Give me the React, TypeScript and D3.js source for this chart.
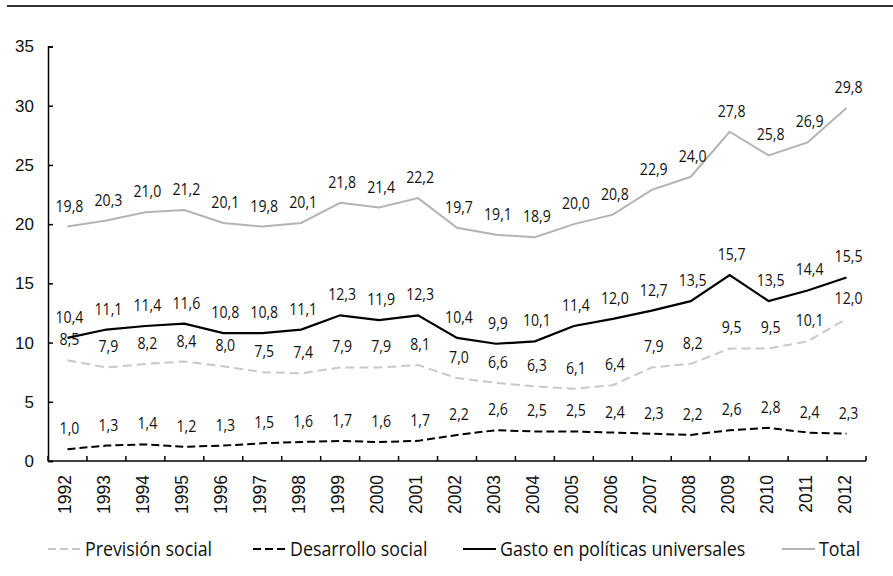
import React, { useRef, useEffect } from "react";
import * as d3 from "d3";

const years = ["1992","1993","1994","1995","1996","1997","1998","1999","2000","2001","2002","2003","2004","2005","2006","2007","2008","2009","2010","2011","2012"];
const prevision = [8.5,7.9,8.2,8.4,8.0,7.5,7.4,7.9,7.9,8.1,7.0,6.6,6.3,6.1,6.4,7.9,8.2,9.5,9.5,10.1,12.0];
const desarrollo = [1.0,1.3,1.4,1.2,1.3,1.5,1.6,1.7,1.6,1.7,2.2,2.6,2.5,2.5,2.4,2.3,2.2,2.6,2.8,2.4,2.3];
const gasto = [10.4,11.1,11.4,11.6,10.8,10.8,11.1,12.3,11.9,12.3,10.4,9.9,10.1,11.4,12.0,12.7,13.5,15.7,13.5,14.4,15.5];
const total = [19.8,20.3,21.0,21.2,20.1,19.8,20.1,21.8,21.4,22.2,19.7,19.1,18.9,20.0,20.8,22.9,24.0,27.8,25.8,26.9,29.8];
const yTicks = [0,5,10,15,20,25,30,35];

const series = [
  { name: "Previsión social", values: prevision, color: "#c8c8c8", width: 2, dash: "9,5", legendX: 48 },
  { name: "Desarrollo social", values: desarrollo, color: "#000", width: 2, dash: "8,4", legendX: 253 },
  { name: "Gasto en políticas universales", values: gasto, color: "#000", width: 2.2, dash: null, legendX: 463 },
  { name: "Total", values: total, color: "#b4b4b4", width: 2, dash: null, legendX: 782 },
];

const fmt = (v: number) => v.toFixed(1).replace(".", ",");
// no condensed face installed, so Open Sans gets squeezed horizontally
const labelFont = "'Open Sans', sans-serif";
const axisFont = "'Liberation Sans', Arial, sans-serif";

export default function App() {
  const svgRef = useRef<SVGSVGElement>(null);

  useEffect(() => {
    const svg = d3.select(svgRef.current);
    svg.selectAll("*").remove();

    const x = d3.scaleBand().domain(years).range([48, 866]);
    const y = d3.scaleLinear().domain([0, 35]).range([461, 46.5]);
    const cx = (d: string) => (x(d) as number) + x.bandwidth() / 2;

    // top rule
    svg.append("line")
      .attr("x1", 7).attr("x2", 893).attr("y1", 6).attr("y2", 6)
      .attr("stroke", "#333").attr("stroke-width", 2);

    // y axis
    const yAxis = svg.append("g").attr("transform", "translate(48,0)")
      .call(d3.axisRight(y).tickValues(yTicks).tickSize(5).tickFormat(d3.format("d")));
    yAxis.select(".domain").attr("stroke", "#000").attr("stroke-width", 1.5);
    yAxis.selectAll(".tick line").attr("stroke", "#000").attr("stroke-width", 1.5);
    yAxis.selectAll(".tick text")
      .attr("x", -14).attr("text-anchor", "end")
      .attr("font-family", axisFont).attr("font-size", 17).attr("fill", "#111");

    // x axis
    const xAxis = svg.append("g").attr("transform", "translate(0,461)");
    xAxis.append("line").attr("x1", 48).attr("x2", 866).attr("stroke", "#000").attr("stroke-width", 1.5);
    xAxis.selectAll("line.tk").data(years.concat(["end"])).enter().append("line")
      .attr("class", "tk")
      .attr("x1", (d, i) => 48 + i * x.step()).attr("x2", (d, i) => 48 + i * x.step())
      .attr("y1", 0).attr("y2", -5)
      .attr("stroke", "#000").attr("stroke-width", 1.5);
    xAxis.selectAll("text").data(years).enter().append("text")
      .attr("transform", d => `translate(${cx(d) + 4},14) rotate(-90)`)
      .attr("text-anchor", "end")
      .attr("font-family", axisFont).attr("font-size", 17.5).attr("fill", "#111")
      .text(d => d);

    const line = d3.line<number>().x((d, i) => cx(years[i])).y(d => y(d));

    series.forEach(s => {
      svg.append("path")
        .datum(s.values)
        .attr("d", line)
        .attr("fill", "none")
        .attr("stroke", s.color)
        .attr("stroke-width", s.width)
        .attr("stroke-dasharray", s.dash);
      svg.append("g").selectAll("text").data(s.values).enter().append("text")
        .attr("transform", (d, i) => `translate(${cx(years[i]) + 2},${y(d) - 15}) scale(0.83,1)`)
        .attr("text-anchor", "middle")
        .attr("font-family", labelFont).attr("font-size", 17).attr("fill", "#111")
        .text(d => fmt(d));
    });

    // legend
    const lg = svg.append("g").attr("transform", "translate(0,549)");
    series.forEach(s => {
      lg.append("line")
        .attr("x1", s.legendX).attr("x2", s.legendX + 33)
        .attr("stroke", s.color).attr("stroke-width", s.width)
        .attr("stroke-dasharray", s.dash ? "8,4" : null);
      lg.append("text")
        .attr("transform", `translate(${s.legendX + 37},7) scale(0.89,1)`)
        .attr("font-family", labelFont).attr("font-size", 20).attr("fill", "#111")
        .text(s.name);
    });
  }, []);

  return (
    <svg ref={svgRef} width={893} height={576}
      style={{ position: "absolute", left: 0, top: 0, background: "#fff" }} />
  );
}
